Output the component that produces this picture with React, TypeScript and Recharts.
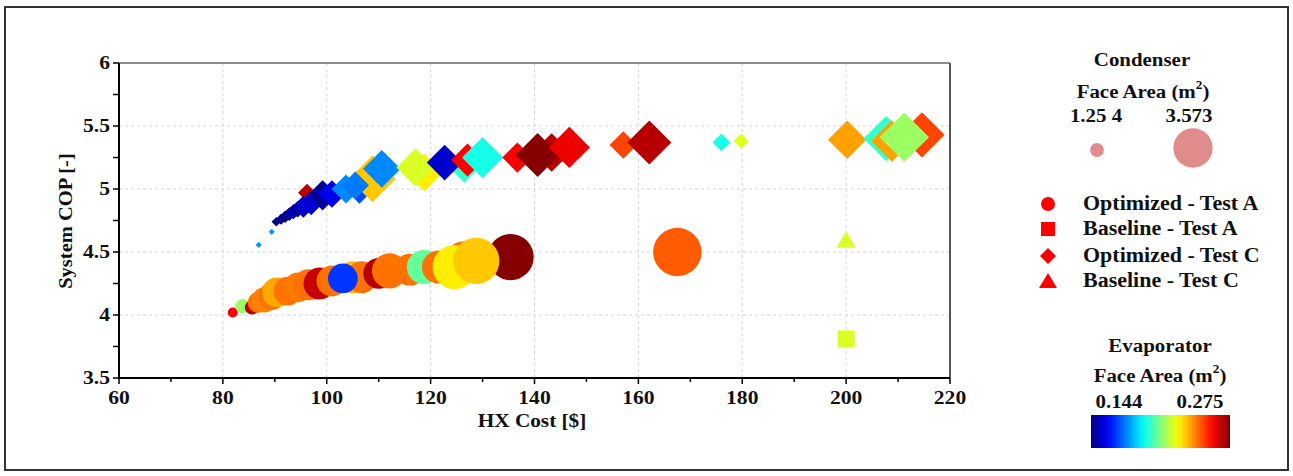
import React from 'react';
import { ScatterChart, Scatter, XAxis, YAxis, CartesianGrid, ReferenceLine } from 'recharts';

// ---------- data ----------
// cost = HX Cost [$], cop = System COP [-], cond = condenser face area (m2), evap = evaporator face area (m2)
const optimizedTestA = [
  { cost: 81.9, cop: 4.02, cond: 0.9, evap: 0.259 },
  { cost: 83.8, cop: 4.07, cond: 1.3, evap: 0.213 },
  { cost: 85.6, cop: 4.06, cond: 1.3, evap: 0.268 },
  { cost: 86.8, cop: 4.1, cond: 1.9, evap: 0.244 },
  { cost: 88.0, cop: 4.12, cond: 2.3, evap: 0.242 },
  { cost: 89.5, cop: 4.15, cond: 2.5, evap: 0.244 },
  { cost: 90.4, cop: 4.18, cond: 2.7, evap: 0.237 },
  { cost: 92.5, cop: 4.19, cond: 2.6, evap: 0.244 },
  { cost: 94.5, cop: 4.22, cond: 2.7, evap: 0.243 },
  { cost: 96.5, cop: 4.24, cond: 2.8, evap: 0.244 },
  { cost: 98.6, cop: 4.25, cond: 2.9, evap: 0.266 },
  { cost: 101.0, cop: 4.27, cond: 2.8, evap: 0.244 },
  { cost: 105.0, cop: 4.3, cond: 2.9, evap: 0.234 },
  { cost: 106.7, cop: 4.3, cond: 2.9, evap: 0.244 },
  { cost: 103.1, cop: 4.29, cond: 2.7, evap: 0.167 },
  { cost: 110.0, cop: 4.33, cond: 2.8, evap: 0.268 },
  { cost: 112.1, cop: 4.35, cond: 3.2, evap: 0.244 },
  { cost: 116.0, cop: 4.36, cond: 2.9, evap: 0.244 },
  { cost: 118.7, cop: 4.38, cond: 3.1, evap: 0.206 },
  { cost: 121.5, cop: 4.38, cond: 3.0, evap: 0.244 },
  { cost: 126.5, cop: 4.42, cond: 3.8, evap: 0.244 },
  { cost: 124.6, cop: 4.38, cond: 4.0, evap: 0.228 },
  { cost: 135.4, cop: 4.46, cond: 4.2, evap: 0.274 },
  { cost: 128.8, cop: 4.43, cond: 4.2, evap: 0.233 },
  { cost: 167.5, cop: 4.5, cond: 4.4, evap: 0.247 },
];

const baselineTestA = [{ cost: 200, cop: 3.81, cond: 1.55, evap: 0.221 }];

const optimizedTestC = [
  { cost: 86.9, cop: 4.556, cond: 0.45, evap: 0.18 },
  { cost: 89.4, cop: 4.66, cond: 0.45, evap: 0.18 },
  { cost: 90.3, cop: 4.74, cond: 0.7, evap: 0.145 },
  { cost: 91.2, cop: 4.76, cond: 0.8, evap: 0.146 },
  { cost: 92.0, cop: 4.78, cond: 0.9, evap: 0.145 },
  { cost: 92.8, cop: 4.8, cond: 1.0, evap: 0.147 },
  { cost: 93.6, cop: 4.82, cond: 1.1, evap: 0.152 },
  { cost: 94.4, cop: 4.84, cond: 1.2, evap: 0.146 },
  { cost: 96.2, cop: 4.97, cond: 1.3, evap: 0.268 },
  { cost: 95.5, cop: 4.86, cond: 1.6, evap: 0.153 },
  { cost: 97.0, cop: 4.89, cond: 1.8, evap: 0.155 },
  { cost: 99.2, cop: 4.95, cond: 2.2, evap: 0.147 },
  { cost: 101.0, cop: 4.96, cond: 2.0, evap: 0.158 },
  { cost: 103.7, cop: 5.0, cond: 2.1, evap: 0.178 },
  { cost: 106.3, cop: 4.97, cond: 1.6, evap: 0.17 },
  { cost: 108.8, cop: 5.08, cond: 3.4, evap: 0.233 },
  { cost: 105.5, cop: 5.03, cond: 2.0, evap: 0.176 },
  { cost: 110.6, cop: 5.16, cond: 2.75, evap: 0.178 },
  { cost: 118.8, cop: 5.13, cond: 2.7, evap: 0.228 },
  { cost: 117.1, cop: 5.17, cond: 2.8, evap: 0.221 },
  { cost: 126.5, cop: 5.18, cond: 2.4, evap: 0.2 },
  { cost: 122.7, cop: 5.21, cond: 2.6, evap: 0.154 },
  { cost: 127.1, cop: 5.23, cond: 2.4, evap: 0.259 },
  { cost: 130.0, cop: 5.25, cond: 3.0, evap: 0.196 },
  { cost: 136.7, cop: 5.25, cond: 2.2, evap: 0.259 },
  { cost: 143.3, cop: 5.29, cond: 2.8, evap: 0.268 },
  { cost: 140.6, cop: 5.27, cond: 3.2, evap: 0.274 },
  { cost: 146.7, cop: 5.33, cond: 3.0, evap: 0.261 },
  { cost: 157.1, cop: 5.35, cond: 2.0, evap: 0.25 },
  { cost: 162.1, cop: 5.37, cond: 3.2, evap: 0.268 },
  { cost: 176.0, cop: 5.37, cond: 1.3, evap: 0.196 },
  { cost: 179.8, cop: 5.38, cond: 1.1, evap: 0.222 },
  { cost: 200.2, cop: 5.39, cond: 2.8, evap: 0.238 },
  { cost: 214.6, cop: 5.43, cond: 3.3, evap: 0.25 },
  { cost: 207.7, cop: 5.4, cond: 3.3, evap: 0.2 },
  { cost: 208.8, cop: 5.38, cond: 3.0, evap: 0.238 },
  { cost: 211.2, cop: 5.41, cond: 3.6, evap: 0.213 },
];

const baselineTestC = [{ cost: 200, cop: 4.6, cond: 1.55, evap: 0.221 }];

const xTicks = [60, 70, 80, 90, 100, 110, 120, 130, 140, 150, 160, 170, 180, 190, 200, 210, 220];
const xMajorTicks = [60, 80, 100, 120, 140, 160, 180, 200, 220];
const yTicks = [3.5, 3.75, 4, 4.25, 4.5, 4.75, 5, 5.25, 5.5, 5.75, 6];
const yMajorTicks = [3.5, 4, 4.5, 5, 5.5, 6];
const xGridValues = [80, 100, 120, 140, 160, 180, 200];
const yGridValues = [4, 4.5, 5, 5.5];

const condLegend = [1.254, 3.573];
const condLegendLabels = ['1.25 4', '3.573'];
const evapRange = [0.144, 0.275];
const evapRangeLabels = ['0.144', '0.275'];

const seriesLabels = ['Optimized - Test A', 'Baseline - Test A', 'Optimized - Test C', 'Baseline - Test C'];

// ---------- helpers ----------
const FONT = "'Liberation Serif', 'Times New Roman', Times, serif";
const clamp = (v: number) => Math.max(0, Math.min(1, v));
const jet = (t: number) => {
  const r = clamp(1.5 - Math.abs(4 * t - 3));
  const g = clamp(1.5 - Math.abs(4 * t - 2));
  const b = clamp(1.5 - Math.abs(4 * t - 1));
  return `rgb(${Math.round(r * 255)},${Math.round(g * 255)},${Math.round(b * 255)})`;
};
const evapColor = (e: number) => jet((e - evapRange[0]) / (evapRange[1] - evapRange[0]));
const radiusOf = (cond: number) => 5.5 * cond;

const CircleShape = (p: any) => {
  const { cx, cy, payload } = p;
  return <circle cx={cx} cy={cy} r={radiusOf(payload.cond)} fill={evapColor(payload.evap)} />;
};
const SquareShape = (p: any) => {
  const { cx, cy, payload } = p;
  const h = radiusOf(payload.cond);
  return <rect x={cx - h} y={cy - h} width={2 * h} height={2 * h} fill={evapColor(payload.evap)} />;
};
const DiamondShape = (p: any) => {
  const { cx, cy, payload } = p;
  const h = radiusOf(payload.cond) * 1.25;
  return <polygon points={`${cx},${cy - h} ${cx + h},${cy} ${cx},${cy + h} ${cx - h},${cy}`} fill={evapColor(payload.evap)} />;
};
const TriangleShape = (p: any) => {
  const { cx, cy, payload } = p;
  const w = radiusOf(payload.cond) * 1.12;
  const h = radiusOf(payload.cond) * 0.95;
  return <polygon points={`${cx},${cy - h} ${cx + w},${cy + h} ${cx - w},${cy + h}`} fill={evapColor(payload.evap)} />;
};

const T = ({ x, y, size = 19, sx = 1.12, anchor = 'middle', rotate = 0, children }: any) => (
  <text
    transform={`translate(${x},${y}) rotate(${rotate}) scale(${sx},1)`}
    textAnchor={anchor}
    fontFamily={FONT}
    fontWeight="bold"
    fontSize={size}
    fill="#111"
  >
    {children}
  </text>
);

const isMajor = (v: number, list: number[]) => list.some((m) => Math.abs(m - v) < 1e-6);

const XTick = (props: any) => {
  const { x, y, payload } = props;
  const v = payload.value;
  const major = isMajor(v, xMajorTicks);
  return (
    <g>
      <line x1={x} x2={x} y1={y} y2={y + (major ? 6 : 4)} stroke="#000" strokeWidth={1.5} />
      {major && (
        <T x={x} y={y + 26} size={18} sx={1.2}>
          {String(v)}
        </T>
      )}
    </g>
  );
};

const YTick = (props: any) => {
  const { x, y, payload } = props;
  const v = payload.value;
  const major = isMajor(v, yMajorTicks);
  return (
    <g>
      <line x1={x} x2={x - 6} y1={y} y2={y} stroke="#000" strokeWidth={1.5} />
      {major && (
        <T x={x - 9} y={y + 6} size={18} sx={1.2} anchor="end">
          {String(v)}
        </T>
      )}
    </g>
  );
};

const FaceArea = ({ x, y }: any) => (
  <text
    transform={`translate(${x},${y}) scale(1.1,1)`}
    textAnchor="middle"
    fontFamily={FONT}
    fontWeight="bold"
    fontSize={19}
    fill="#111"
  >
    Face Area (m
    <tspan dy={-9} fontSize={12}>2</tspan>
    <tspan dy={9}>)</tspan>
  </text>
);

const Legend = () => {
  const stops = Array.from({ length: 21 }, (_, i) => i / 20);
  const mx = 1048;
  const my = [204, 229, 256, 281];
  return (
    <svg width={1293} height={476} style={{ position: 'absolute', left: 0, top: 0, pointerEvents: 'none' }}>
      <defs>
        <linearGradient id="jetGrad" x1="0" x2="1" y1="0" y2="0">
          {stops.map((t) => (
            <stop key={t} offset={t} stopColor={jet(t)} />
          ))}
        </linearGradient>
      </defs>
      <rect x={5} y={7} width={1283} height={463} fill="none" stroke="#333" strokeWidth={2} />

      {/* axis titles */}
      <T x={532} y={427} size={19}>HX Cost [$]</T>
      <T x={72} y={221} size={19} sx={1.08} rotate={-90}>System COP [-]</T>

      {/* condenser legend */}
      <T x={1142} y={66} size={19} sx={1.1}>Condenser</T>
      <FaceArea x={1143} y={98} />
      <T x={1096} y={122} size={19} sx={1.1}>{condLegendLabels[0]}</T>
      <T x={1189} y={122} size={19} sx={1.1}>{condLegendLabels[1]}</T>
      <circle cx={1097} cy={150} r={radiusOf(condLegend[0])} fill="#e08c8c" />
      <circle cx={1193} cy={148} r={radiusOf(condLegend[1])} fill="#e08c8c" />

      {/* marker legend */}
      <circle cx={mx} cy={my[0]} r={7} fill="#ff0000" />
      <rect x={mx - 7} y={my[1] - 7} width={14} height={14} fill="#ff0000" />
      <polygon points={`${mx},${my[2] - 8} ${mx + 8},${my[2]} ${mx},${my[2] + 8} ${mx - 8},${my[2]}`} fill="#ff0000" />
      <polygon points={`${mx},${my[3] - 8} ${mx + 9},${my[3] + 7} ${mx - 9},${my[3] + 7}`} fill="#ff0000" />
      {seriesLabels.map((s, i) => (
        <T key={s} x={1083} y={my[i] + 6} size={20} sx={1.1} anchor="start">
          {s}
        </T>
      ))}

      {/* evaporator legend */}
      <T x={1160} y={352} size={19} sx={1.1}>Evaporator</T>
      <FaceArea x={1160} y={382} />
      <T x={1119} y={408} size={19} sx={1.1}>{evapRangeLabels[0]}</T>
      <T x={1200} y={408} size={19} sx={1.1}>{evapRangeLabels[1]}</T>
      <rect x={1091} y={415} width={139} height={33} fill="url(#jetGrad)" />
    </svg>
  );
};

export default function App() {
  return (
    <div style={{ position: 'absolute', left: 0, top: 0, width: 1293, height: 476, background: '#fff' }}>
      <ScatterChart width={1293} height={476} margin={{ top: 63, right: 343, bottom: 68, left: 59 }}>
        <CartesianGrid
          stroke="#d4d4d4"
          strokeDasharray="3 3"
          horizontalValues={yGridValues}
          verticalValues={xGridValues}
        />
        <XAxis
          type="number"
          dataKey="cost"
          domain={[60, 220]}
          ticks={xTicks}
          interval={0}
          height={30}
          tickSize={0}
          tickMargin={0}
          tickLine={false}
          tick={<XTick />}
          axisLine={{ stroke: '#000', strokeWidth: 2 }}
          allowDataOverflow
        />
        <YAxis
          type="number"
          dataKey="cop"
          domain={[3.5, 6]}
          ticks={yTicks}
          interval={0}
          width={60}
          tickSize={0}
          tickMargin={0}
          tickLine={false}
          tick={<YTick />}
          axisLine={{ stroke: '#000', strokeWidth: 2 }}
          allowDataOverflow
        />
        <ReferenceLine y={6} stroke="#666" strokeWidth={1.5} />
        <ReferenceLine x={220} stroke="#555" strokeWidth={2} />
        <Scatter data={optimizedTestA} shape={<CircleShape />} isAnimationActive={false} />
        <Scatter data={baselineTestA} shape={<SquareShape />} isAnimationActive={false} />
        <Scatter data={optimizedTestC} shape={<DiamondShape />} isAnimationActive={false} />
        <Scatter data={baselineTestC} shape={<TriangleShape />} isAnimationActive={false} />
      </ScatterChart>
      <Legend />
    </div>
  );
}
